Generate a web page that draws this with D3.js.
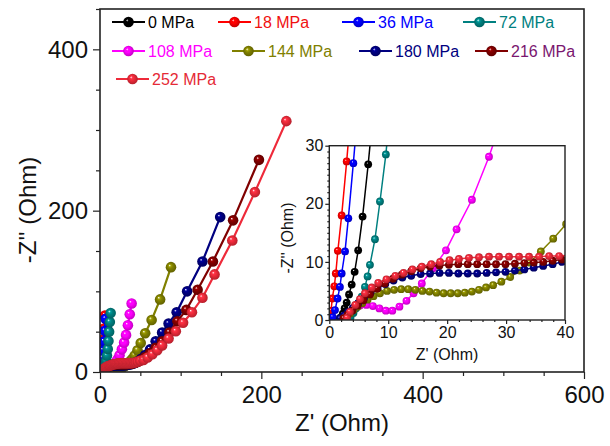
<!DOCTYPE html>
<html>
<head>
<meta charset="utf-8">
<script src="https://cdn.jsdelivr.net/npm/d3@7/dist/d3.min.js"></script>
<style>
  body { margin: 0; background: #fff; }
  svg { display: block; }
  text { font-family: "Liberation Sans", Arial, Helvetica, sans-serif; }
</style>
</head>
<body>
<svg id="chart" width="610" height="446"></svg>
<script>
// Nyquist data, [Z' (Ohm), -Z'' (Ohm)], one array per compaction pressure
const mpa0 = [[1.9,0.4],[2.3,1.1],[2.6,2.0],[2.95,3.0],[3.35,4.4],[3.8,6.1],[4.3,8.3],[4.9,12.0],[5.65,17.8],[6.6,26.8],[7.7,38.5],[8.9,53]];
const mpa18 = [[0.1,0.6],[0.3,1.6],[0.5,3.7],[0.85,5.8],[1.1,8.0],[1.45,11.9],[2.1,18.0],[2.95,27.3],[4.0,40],[5.0,54],[6.1,70]];
const mpa36 = [[0.6,0.5],[0.97,1.7],[1.4,3.7],[1.8,5.7],[2.1,8.0],[2.67,11.8],[3.23,17.5],[4.08,27.0],[5.0,38],[5.9,51],[6.8,66]];
const mpa72 = [[3.6,0.4],[4.1,1.2],[4.5,2.0],[4.9,2.9],[5.5,4.0],[6.05,5.7],[6.5,7.5],[6.9,9.5],[7.75,13.9],[8.6,20.4],[9.6,28.5],[10.5,38.5],[11.3,50],[12.2,62],[13.2,73]];
const mpa108 = [[2.8,0.3],[3.4,1.2],[4.2,2.0],[5.2,2.5],[6.3,2.6],[7.4,2.4],[8.5,2.0],[9.6,1.6],[10.7,1.6],[11.9,2.3],[13.1,3.3],[14.3,4.6],[15.7,6.3],[17.6,8.9],[19.8,12.0],[21.6,15.6],[24.2,20.7],[27.1,28.1],[29.9,36.5],[32.3,46],[34.6,58],[36.9,71.5],[39.2,85]];
const mpa144 = [[2.6,0.2],[3.0,0.6],[3.5,1.1],[4.1,1.7],[4.8,2.3],[5.6,2.9],[6.5,3.5],[7.5,4.1],[8.6,4.6],[9.8,5.0],[11.0,5.2],[12.2,5.3],[13.4,5.3],[14.6,5.2],[15.8,5.0],[17.0,4.9],[18.2,4.7],[19.4,4.6],[20.6,4.6],[21.8,4.6],[23.0,4.7],[24.2,4.9],[25.4,5.2],[26.6,5.6],[27.8,6.0],[29.2,6.6],[30.7,7.4],[32.3,8.5],[34.0,9.9],[35.9,11.8],[38.0,14.0],[40.2,16.5],[43,20.5],[46.5,27],[50.5,36],[56,48],[64,64.5],[74.5,90],[88,130]];
const mpa180 = [[1.8,0.3],[2.5,0.8],[3.2,1.4],[4.0,2.1],[4.9,2.9],[5.9,3.8],[7.0,4.7],[8.2,5.5],[9.5,6.2],[10.9,6.8],[12.4,7.3],[13.9,7.6],[15.5,7.9],[17.1,8.0],[18.7,8.1],[20.3,8.1],[21.9,8.0],[23.5,8.0],[25.1,8.0],[26.7,8.1],[28.3,8.2],[29.9,8.3],[31.5,8.5],[33.1,8.7],[34.7,9.0],[36.3,9.3],[37.9,9.6],[39.5,10.0],[41.5,10.6],[44,11.6],[47,13.3],[51,16.3],[56,21],[62,28],[69,38],[77,49],[85,60],[95,74],[108,100],[127,137],[149,192]];
const mpa216 = [[2.4,0.3],[3.1,0.9],[3.9,1.6],[4.8,2.5],[5.8,3.4],[6.9,4.4],[8.1,5.4],[9.4,6.3],[10.8,7.1],[12.3,7.8],[13.9,8.4],[15.5,8.9],[17.1,9.2],[18.7,9.4],[20.3,9.5],[21.9,9.6],[23.5,9.6],[25.1,9.6],[26.7,9.6],[28.3,9.6],[29.9,9.6],[31.5,9.7],[33.1,9.8],[34.7,9.9],[36.3,10.0],[37.9,10.2],[39.5,10.4],[41.5,10.8],[44,11.5],[47,12.8],[51,15],[56,18.5],[62,23.5],[69,30],[77,38],[86,49],[96,63],[107,77],[121,102],[140,137],[165,188],[197,263]];
const mpa252 = [[3.0,0.4],[3.5,1.4],[4.4,2.6],[5.2,3.6],[6.05,4.6],[7.2,5.6],[8.3,6.4],[9.7,7.0],[11.2,7.6],[12.6,8.1],[14.1,8.7],[15.7,9.2],[17.3,9.6],[18.8,10.0],[20.4,10.3],[22.0,10.5],[23.7,10.7],[25.4,10.8],[27.1,10.9],[28.8,10.9],[30.5,10.9],[32.2,10.9],[33.9,10.9],[35.6,10.9],[37.3,11.0],[39.0,11.0],[40.7,11.2],[42.5,11.5],[44.5,12.0],[47,12.8],[50,14],[54,15],[59,18],[65,22],[71,27],[77,33],[85,41.5],[94,50.5],[103,61],[114,74],[127,92],[142,121],[164,163],[192,223],[231,311]];

const pressureLabels = ["0 MPa","18 MPa","36 MPa","72 MPa","108 MPa","144 MPa","180 MPa","216 MPa","252 MPa"];
const seriesData = [mpa0, mpa18, mpa36, mpa72, mpa108, mpa144, mpa180, mpa216, mpa252];

// axis ticks
const mainXMajor = [0, 200, 400, 600];
const mainYMajor = [0, 200, 400];
const insetXMajor = [0, 10, 20, 30, 40];
const insetYMajor = [0, 10, 20, 30];

// styles
const lineColors = ["#000000","#ff0000","#0000ff","#008080","#ff00ff","#808000","#000080","#800000","#ee2a3a"];
const textColors = ["#000000","#f01010","#0000ff","#008080","#ff00ff","#808000","#000080","#7a1670","#e52a36"];

const svg = d3.select("#chart");
const defs = svg.append("defs");

// shaded ball marker per colour
lineColors.forEach((c, i) => {
  const g = defs.append("radialGradient")
    .attr("id", "ball" + i)
    .attr("cx", "0.5").attr("cy", "0.5").attr("r", "0.55")
    .attr("fx", "0.36").attr("fy", "0.32");
  g.append("stop").attr("offset", "0").attr("stop-color", "#ffffff");
  g.append("stop").attr("offset", "0.22").attr("stop-color", d3.color(c).brighter(0.6).formatHex());
  g.append("stop").attr("offset", "0.45").attr("stop-color", c);
  g.append("stop").attr("offset", "1").attr("stop-color", d3.color(c).darker(0.9).formatHex());
});

// ---------- main plot ----------
const x = d3.scaleLinear().domain([0, 600]).range([100, 584]);
const y = d3.scaleLinear().domain([0, 450]).range([372, 9]);

svg.append("rect").attr("x", 100).attr("y", 9).attr("width", 484).attr("height", 363).attr("fill", "#fff");

defs.append("clipPath").attr("id", "mainClip")
  .append("rect").attr("x", 100).attr("y", 9).attr("width", 484).attr("height", 363);

function drawSeries(layer, sx, sy, r, lw) {
  const line = d3.line().x(d => sx(d[0])).y(d => sy(d[1]));
  seriesData.forEach((data, i) => {
    const g = layer.append("g");
    g.append("path").attr("d", line(data)).attr("fill", "none")
      .attr("stroke", lineColors[i]).attr("stroke-width", lw);
    g.selectAll("circle").data(data).join("circle")
      .attr("cx", d => sx(d[0])).attr("cy", d => sy(d[1])).attr("r", r)
      .attr("fill", `url(#ball${i})`);
  });
}

drawSeries(svg.append("g").attr("clip-path", "url(#mainClip)"), x, y, 5.3, 2.2);

// frame
svg.append("rect").attr("x", 100).attr("y", 9).attr("width", 484).attr("height", 363)
  .attr("fill", "none").attr("stroke", "#222").attr("stroke-width", 1.6);

function styleAxis(g, size) {
  g.select(".domain").remove();
  g.selectAll("line").attr("stroke", "#222").attr("stroke-width", 1.4);
  g.selectAll("text").attr("font-size", size).attr("fill", "#111")
    .attr("font-family", '"Liberation Sans", Arial, sans-serif');
}

const xMinorMain = d3.range(0, 601, 50).filter(v => !mainXMajor.includes(v));
const yMinorMain = d3.range(0, 451, 50).filter(v => !mainYMajor.includes(v));

svg.append("g").attr("transform", "translate(0,372)")
  .call(d3.axisBottom(x).tickValues(xMinorMain).tickSize(4).tickFormat(""))
  .call(g => styleAxis(g, 24));
svg.append("g").attr("transform", "translate(0,372)")
  .call(d3.axisBottom(x).tickValues(mainXMajor).tickSize(7).tickPadding(7).tickFormat(d3.format("d")))
  .call(g => styleAxis(g, 24));
svg.append("g").attr("transform", "translate(100,0)")
  .call(d3.axisLeft(y).tickValues(yMinorMain).tickSize(4).tickFormat(""))
  .call(g => styleAxis(g, 24));
svg.append("g").attr("transform", "translate(100,0)")
  .call(d3.axisLeft(y).tickValues(mainYMajor).tickSize(7).tickPadding(5).tickFormat(d3.format("d")))
  .call(g => styleAxis(g, 24));

svg.append("text").attr("x", 342).attr("y", 431).attr("text-anchor", "middle")
  .attr("font-size", 24).attr("fill", "#111").text("Z' (Ohm)");
svg.append("text").attr("transform", "translate(36,210) rotate(-90)").attr("text-anchor", "middle")
  .attr("font-size", 24).attr("fill", "#111").text("-Z'' (Ohm)");

// ---------- legend ----------
const legendRows = [22, 51, 79];
const legendSlots = [[0,112],[0,218],[0,342],[0,463],[1,112],[1,232],[1,359],[1,475],[2,116]];
const legend = svg.append("g");
pressureLabels.forEach((lab, i) => {
  const [row, lx] = legendSlots[i];
  const ly = legendRows[row];
  const g = legend.append("g");
  g.append("line").attr("x1", lx).attr("x2", lx + 33).attr("y1", ly).attr("y2", ly)
    .attr("stroke", lineColors[i]).attr("stroke-width", 2.2);
  g.append("circle").attr("cx", lx + 16.5).attr("cy", ly).attr("r", 5.3)
    .attr("fill", `url(#ball${i})`);
  g.append("text").attr("x", lx + 36).attr("y", ly + 6)
    .attr("font-size", 16).attr("fill", textColors[i]).text(lab);
});

// ---------- inset ----------
const ix = d3.scaleLinear().domain([0, 40]).range([329.3, 565]);
const iy = d3.scaleLinear().domain([0, 30]).range([320, 145.7]);

svg.append("rect").attr("x", 329.3).attr("y", 145.7).attr("width", 235.7).attr("height", 174.3).attr("fill", "#fff");
defs.append("clipPath").attr("id", "insetClip")
  .append("rect").attr("x", 329.3).attr("y", 145.7).attr("width", 235.7).attr("height", 174.3);

drawSeries(svg.append("g").attr("clip-path", "url(#insetClip)"), ix, iy, 3.9, 1.5);

svg.append("rect").attr("x", 329.3).attr("y", 145.7).attr("width", 235.7).attr("height", 174.3)
  .attr("fill", "none").attr("stroke", "#222").attr("stroke-width", 1.4);

const xMinorInset = d3.range(0, 41, 2).filter(v => !insetXMajor.includes(v));
const yMinorInset = d3.range(0, 31, 1).filter(v => !insetYMajor.includes(v));

svg.append("g").attr("transform", "translate(0,320)")
  .call(d3.axisBottom(ix).tickValues(xMinorInset).tickSize(2).tickFormat(""))
  .call(g => styleAxis(g, 16));
svg.append("g").attr("transform", "translate(0,320)")
  .call(d3.axisBottom(ix).tickValues(insetXMajor).tickSize(4).tickPadding(3).tickFormat(d3.format("d")))
  .call(g => styleAxis(g, 16));
svg.append("g").attr("transform", "translate(329.3,0)")
  .call(d3.axisLeft(iy).tickValues(yMinorInset).tickSize(2).tickFormat(""))
  .call(g => styleAxis(g, 16));
svg.append("g").attr("transform", "translate(329.3,0)")
  .call(d3.axisLeft(iy).tickValues(insetYMajor).tickSize(4).tickPadding(2).tickFormat(d3.format("d")))
  .call(g => styleAxis(g, 16));
svg.selectAll("g .tick line").attr("stroke-width", 1.2);

svg.append("text").attr("x", 447).attr("y", 360).attr("text-anchor", "middle")
  .attr("font-size", 16).attr("fill", "#111").text("Z' (Ohm)");
svg.append("text").attr("transform", "translate(293,238) rotate(-90)").attr("text-anchor", "middle")
  .attr("font-size", 16).attr("fill", "#111").text("-Z'' (Ohm)");
</script>
</body>
</html>
